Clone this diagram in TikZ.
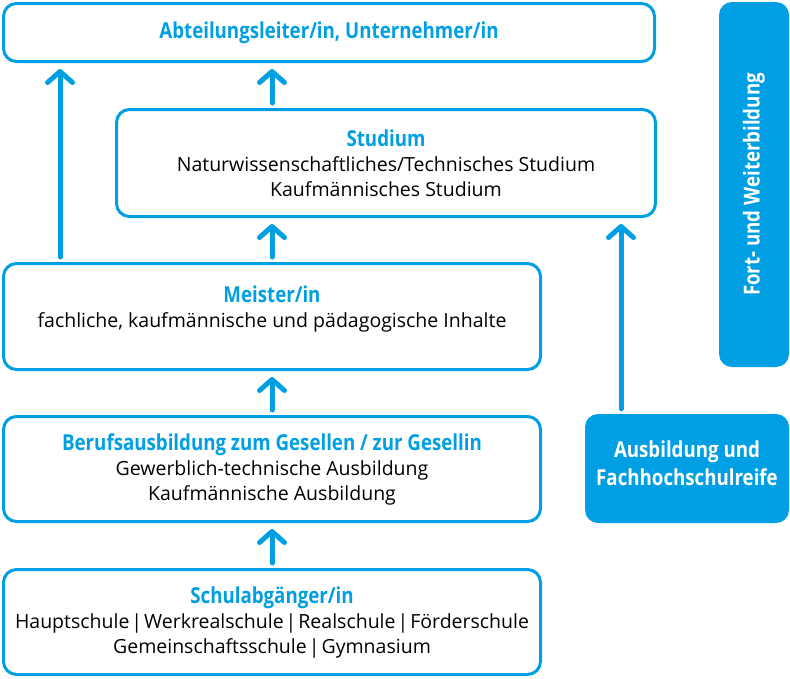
\documentclass[tikz,border=0pt]{standalone}
\usepackage{fontspec}
\setmainfont{Open Sans}
\newfontfamily\condfont[FakeStretch=0.85]{Open Sans}
\definecolor{bwblue}{HTML}{009FE3}
\usetikzlibrary{arrows.meta}

\newcommand{\ttl}[1]{{\condfont\bfseries\fontsize{22}{25}\selectfont\color{bwblue}#1}}
\newcommand{\sep}{\kern2pt|\kern2pt}

\begin{document}
\begin{tikzpicture}[x=1pt, y=-1pt,
  stage/.style={draw=bwblue, line width=3pt, rounded corners=13pt, fill=white,
    align=center, inner sep=0pt, font=\fontsize{19.5}{25}\selectfont},
  sidebox/.style={fill=bwblue, rounded corners=13pt, align=center, inner sep=0pt,
    text=white, font=\condfont\bfseries\fontsize{22}{28}\selectfont},
  uparr/.style={bwblue, line width=5pt, line cap=round,
    -{Straight Barb[round, length=11pt, width=25pt]},
    shorten <=5pt, shorten >=6pt}]
\useasboundingbox (0,0) rectangle (790,678);

% Stufen (unten nach oben)
\node[stage, minimum width=651pt, minimum height=58pt] (leiter) at (329,32.5)
  {\ttl{Abteilungsleiter/in, Unternehmer/in}};
\node[stage, minimum width=539pt, minimum height=107pt] (studium) at (386,163)
  {\ttl{Studium}\\ Naturwissenschaftliches/Technisches Studium\\ Kaufmännisches Studium};
\node[stage, minimum width=537pt, minimum height=106pt, text depth=20pt] (meister) at (272,316.5)
  {\ttl{Meister/in}\\ fachliche, kaufmännische und pädagogische Inhalte};
\node[stage, minimum width=537pt, minimum height=105pt] (beruf) at (272,469)
  {\ttl{Berufsausbildung zum Gesellen / zur Gesellin}\\ Gewerblich-technische Ausbildung\\ Kaufmännische Ausbildung};
\node[stage, minimum width=537pt, minimum height=105pt] (schule) at (272,622)
  {\ttl{Schulabgänger/in}\\ Hauptschule\sep Werkrealschule\sep Realschule\sep Förderschule\\ Gemeinschaftsschule\sep Gymnasium};

% rechte Spalte
\node[sidebox, rotate=90, minimum width=365pt, minimum height=70pt] (fort) at (754,184.5)
  {Fort- und Weiterbildung};
\node[sidebox, minimum width=204pt, minimum height=109pt, text depth=10pt] (fhr) at (687,468.5)
  {Ausbildung und\\ Fachhochschulreife};

% Pfeile
\draw[uparr] (60,0 |- meister.north) -- (60,0 |- leiter.south);
\draw[uparr] (272,0 |- studium.north) -- (272,0 |- leiter.south);
\draw[uparr] (272,0 |- meister.north) -- (272,0 |- studium.south);
\draw[uparr] (272,0 |- beruf.north) -- (272,0 |- meister.south);
\draw[uparr] (272,0 |- schule.north) -- (272,0 |- beruf.south);
\draw[uparr] (621,0 |- fhr.north) -- (621,0 |- studium.south);

\end{tikzpicture}
\end{document}
